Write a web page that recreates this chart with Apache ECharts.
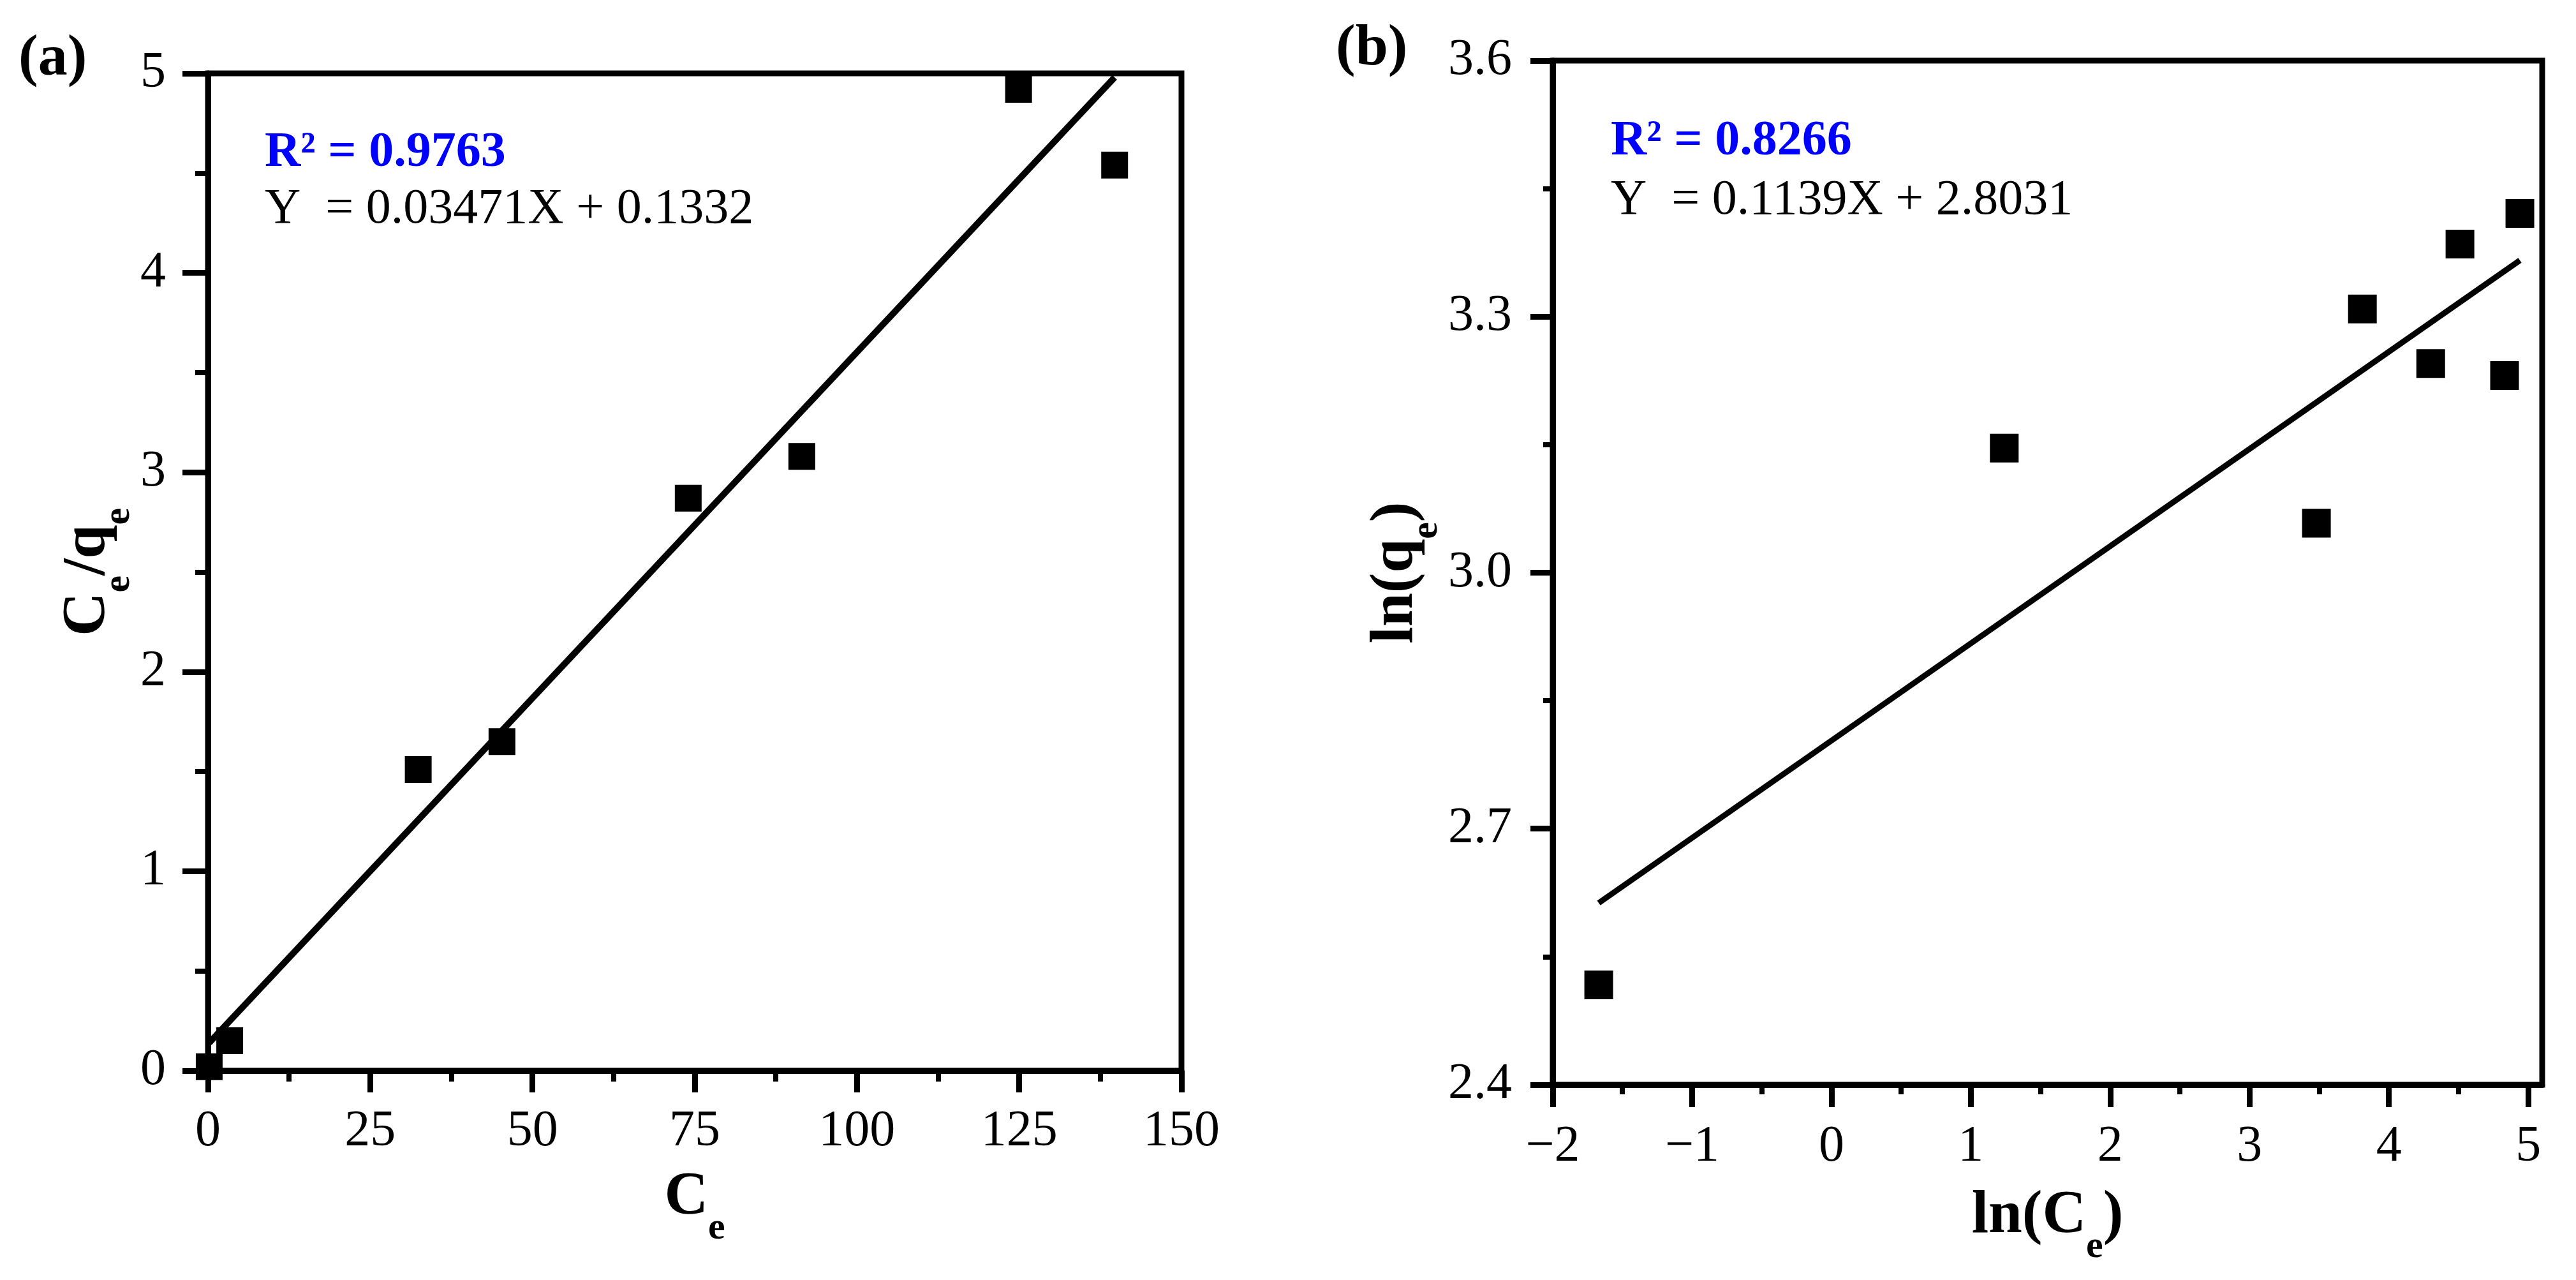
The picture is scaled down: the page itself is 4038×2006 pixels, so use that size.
<!DOCTYPE html>
<html>
<head>
<meta charset="utf-8">
<title>Linear fits</title>
<script src="https://cdn.jsdelivr.net/npm/echarts@6/dist/echarts.min.js"></script>
<style>
    html, body { margin: 0; padding: 0; background: #fff; }
    #chart { width: 4038px; height: 2006px; }
</style>
</head>
<body>
<div id="chart"></div>
<script>
// (a) Ce vs Ce/qe
var ceA = [0.19, 3.35, 32.4, 45.3, 74.0, 91.5, 124.9, 139.7];
var ceQeA = [0.02, 0.15, 1.51, 1.65, 2.87, 3.08, 4.92, 4.54];
var fitA = [[0.19, 0.14], [139.7, 4.98]];
var xTicksA = [0, 25, 50, 75, 100, 125, 150];
var yTicksA = [0, 1, 2, 3, 4, 5];

// (b) ln(Ce) vs ln(qe)
var lnCeB = [-1.67, 1.24, 3.48, 3.81, 4.30, 4.51, 4.83, 4.94];
var lnQeB = [2.517, 3.146, 3.058, 3.309, 3.245, 3.385, 3.231, 3.421];
var fitB = [[-1.67, 2.613], [4.94, 3.366]];
var xTicksB = [-2, -1, 0, 1, 2, 3, 4, 5];
var xMaxB = 5.1;
var yTicksB = [2.4, 2.7, 3.0, 3.3, 3.6];

var fitTextA = ['R\u00b2 = 0.9763', 'Y  = 0.03471X + 0.1332'];
var fitTextB = ['R\u00b2 = 0.8266', 'Y  = 0.1139X + 2.8031'];

var FONT = '"Liberation Serif", "Times New Roman", serif';

function pairs(xs, ys) {
    return xs.map(function (x, i) { return [x, ys[i]]; });
}

// rich text for subscripts
var richName = {
    m: { fontFamily: FONT, fontWeight: 'bold', fontSize: 95, color: '#000', lineHeight: 96, verticalAlign: 'top' },
    s: { fontFamily: FONT, fontWeight: 'bold', fontSize: 60, color: '#000', lineHeight: 60, verticalAlign: 'top', padding: [65, 0, 0, 0] }
};

function valueAxis(o) {
    var ax = {
        type: 'value',
        gridIndex: o.grid,
        min: o.ticks[0],
        max: o.max != null ? o.max : o.ticks[o.ticks.length - 1],
        interval: o.ticks[1] - o.ticks[0],
        z: 5,
        name: o.name,
        nameLocation: 'middle',
        nameGap: o.nameGap,
        nameRotate: o.rotate || 0,
        nameTextStyle: { rich: richName },
        axisLine: { show: true, onZero: false, lineStyle: { color: '#000', width: 9 } },
        axisTick: { show: true, inside: false, length: o.tickLen, lineStyle: { color: '#000', width: 9 } },
        minorTick: { show: true, splitNumber: 2, length: o.minorLen, lineStyle: { color: '#000', width: 8 } },
        axisLabel: {
            show: true,
            margin: o.margin,
            color: '#000',
            fontFamily: FONT,
            fontSize: 80,
            formatter: o.formatter
        },
        splitLine: { show: false },
        minorSplitLine: { show: false }
    };
    if (o.custom) {
        ax.axisTick.customValues = o.ticks;
        ax.axisLabel.customValues = o.ticks;
    }
    return ax;
}

function noteText(x, y, txt, size, bold, color) {
    return {
        type: 'text',
        x: x,
        y: y,
        z: 10,
        style: {
            text: txt,
            fill: color,
            font: (bold ? 'bold ' : '') + size + 'px ' + FONT,
            verticalAlign: 'middle',
            align: 'left'
        }
    };
}

var myChart = echarts.init(document.getElementById('chart'), null, { renderer: 'canvas' });

var option = {
    animation: false,
    backgroundColor: '#fff',
    grid: [
        { left: 326, top: 115, width: 1526, height: 1563, show: true, borderColor: '#000', borderWidth: 9, backgroundColor: 'transparent' },
        { left: 2434, top: 95, width: 1551, height: 1605, show: true, borderColor: '#000', borderWidth: 9, backgroundColor: 'transparent' }
    ],
    xAxis: [
        valueAxis({
            grid: 0, ticks: xTicksA, name: '{m|C}{s|e}', nameGap: 152,
            tickLen: 34, minorLen: 17, margin: 56
        }),
        valueAxis({
            grid: 1, ticks: xTicksB, max: xMaxB, custom: true, name: '{m|ln(C}{s|e}{m|)}', nameGap: 159,
            tickLen: 35, minorLen: 15, margin: 58,
            formatter: function (v) { return String(v).replace('-', '\u2212'); }
        })
    ],
    yAxis: [
        valueAxis({
            grid: 0, ticks: yTicksA, name: '{m|C}{s|e}{m|/q}{s|e}', nameGap: 134, rotate: 90,
            tickLen: 40, minorLen: 20, margin: 66
        }),
        valueAxis({
            grid: 1, ticks: yTicksB, name: '{m|ln(q}{s|e}{m|)}', nameGap: 164, rotate: 90,
            tickLen: 35, minorLen: 15, margin: 64,
            formatter: function (v) { return v.toFixed(1); }
        })
    ],
    series: [
        {
            type: 'scatter', xAxisIndex: 0, yAxisIndex: 0,
            symbol: 'rect', symbolSize: 42,
            itemStyle: { color: '#000', opacity: 1 },
            data: pairs(ceA, ceQeA)
        },
        {
            type: 'line', xAxisIndex: 0, yAxisIndex: 0,
            showSymbol: false, symbol: 'none',
            lineStyle: { color: '#000', width: 10 },
            data: fitA
        },
        {
            type: 'scatter', xAxisIndex: 1, yAxisIndex: 1,
            symbol: 'rect', symbolSize: 45,
            itemStyle: { color: '#000', opacity: 1 },
            data: pairs(lnCeB, lnQeB)
        },
        {
            type: 'line', xAxisIndex: 1, yAxisIndex: 1,
            showSymbol: false, symbol: 'none',
            lineStyle: { color: '#000', width: 9 },
            data: fitB
        }
    ],
    graphic: [
        noteText(29, 93, '(a)', 92, true, '#000'),
        noteText(2094, 77, '(b)', 92, true, '#000'),
        noteText(415, 240, fitTextA[0], 78, true, '#0000ff'),
        noteText(415, 329, fitTextA[1], 78, false, '#000'),
        noteText(2525, 222, fitTextB[0], 78, true, '#0000ff'),
        noteText(2525, 315, fitTextB[1], 78, false, '#000')
    ]
};

myChart.setOption(option);
window.addEventListener('resize', function () {
    myChart.resize();
});
</script>
</body>
</html>
